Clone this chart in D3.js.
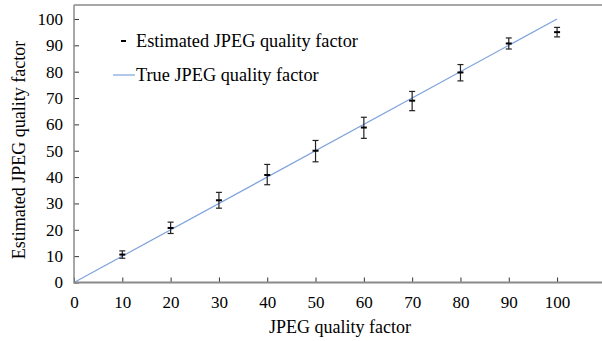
<!DOCTYPE html>
<html>
<head>
<meta charset="utf-8">
<script src="https://cdn.jsdelivr.net/npm/d3@7"></script>
<style>
body{margin:0;background:#fff;}
svg{display:block;font-family:"Liberation Serif","Times New Roman",serif;}
</style>
</head>
<body>
<svg id="chart" width="602" height="341"></svg>
<script>
// data
var quality = [10, 20, 30, 40, 50, 60, 70, 80, 90, 100];
var estimated = [10.6, 20.7, 31.2, 40.8, 50.0, 58.8, 69.0, 79.7, 90.7, 95.0];
var errLow = [1.4, 2.1, 3.0, 3.7, 4.2, 4.1, 3.8, 3.2, 2.1, 1.8];
var errHigh = [1.4, 2.2, 3.0, 4.0, 3.9, 3.9, 3.5, 3.0, 2.1, 1.8];
var trueLine = [0, 100];
var xTicks = [0, 10, 20, 30, 40, 50, 60, 70, 80, 90, 100];
var yTicks = [0, 10, 20, 30, 40, 50, 60, 70, 80, 90, 100];

var svg = d3.select("#chart");
var mLeft = 74, mRight = 602, mTop = 5, mBottom = 282.5;

var x = d3.scaleLinear().domain([0, 109.3]).range([mLeft, mRight]);
var y = d3.scaleLinear().domain([0, 105.3]).range([mBottom, mTop]);

var axisCol = "#8a8a8a";

// true line
svg.append("line")
	.attr("x1", x(trueLine[0])).attr("y1", y(trueLine[0]))
	.attr("x2", x(trueLine[1])).attr("y2", y(trueLine[1]))
	.attr("stroke", "#7fa3de").attr("stroke-width", 1.2);

// error bars
var g = svg.append("g");
for (var i = 0; i < quality.length; i++) {
	var cx = x(quality[i]);
	var y0 = y(estimated[i] - errLow[i]), y1 = y(estimated[i] + errHigh[i]);
	g.append("line").attr("x1", cx).attr("x2", cx).attr("y1", y0).attr("y2", y1)
		.attr("stroke", "#222").attr("stroke-width", 1.2);
	g.append("line").attr("x1", cx - 3).attr("x2", cx + 3).attr("y1", y0).attr("y2", y0)
		.attr("stroke", "#222").attr("stroke-width", 1.2);
	g.append("line").attr("x1", cx - 3).attr("x2", cx + 3).attr("y1", y1).attr("y2", y1)
		.attr("stroke", "#222").attr("stroke-width", 1.2);
	g.append("line").attr("x1", cx - 3).attr("x2", cx + 3)
		.attr("y1", y(estimated[i])).attr("y2", y(estimated[i]))
		.attr("stroke", "#000").attr("stroke-width", 2);
}

// axes
var xAxis = svg.append("g").attr("transform", "translate(0," + mBottom + ")")
	.call(d3.axisBottom(x).tickValues(xTicks).tickSize(-5).tickPadding(13));
var yAxis = svg.append("g").attr("transform", "translate(" + mLeft + ",0)")
	.call(d3.axisLeft(y).tickValues(yTicks).tickSize(-5).tickPadding(11));

[xAxis, yAxis].forEach(function(a){
	a.select(".domain").remove();
	a.selectAll(".tick line").attr("stroke", "#333").attr("stroke-width", 1);
	a.selectAll("text").attr("fill", "#000").style("font-size", "17px")
		.style("font-family", "Liberation Serif, Times New Roman, serif");
});

svg.append("line").attr("x1", mLeft).attr("x2", mRight).attr("y1", mBottom).attr("y2", mBottom)
	.attr("stroke", axisCol).attr("stroke-width", 2);
svg.append("line").attr("x1", mLeft).attr("x2", mLeft).attr("y1", mTop).attr("y2", mBottom + 1)
	.attr("stroke", axisCol).attr("stroke-width", 1.5);
svg.append("line").attr("x1", mLeft).attr("x2", mRight).attr("y1", mTop).attr("y2", mTop)
	.attr("stroke", axisCol).attr("stroke-width", 1.5);

// axis titles
svg.append("text").attr("x", 340).attr("y", 333).attr("text-anchor", "middle")
	.style("font-size", "18px").text("JPEG quality factor");
svg.append("text").attr("transform", "translate(25,150) rotate(-90)")
	.attr("text-anchor", "middle").style("font-size", "18px")
	.text("Estimated JPEG quality factor");

// legend
svg.append("line").attr("x1", 121).attr("x2", 126).attr("y1", 41).attr("y2", 41)
	.attr("stroke", "#000").attr("stroke-width", 2);
svg.append("text").attr("x", 136).attr("y", 47).style("font-size", "18.3px")
	.text("Estimated JPEG quality factor");
svg.append("line").attr("x1", 113).attr("x2", 135).attr("y1", 75).attr("y2", 75)
	.attr("stroke", "#7fa3de").attr("stroke-width", 1.2);
svg.append("text").attr("x", 136).attr("y", 81).style("font-size", "18.3px")
	.text("True JPEG quality factor");
</script>
</body>
</html>
